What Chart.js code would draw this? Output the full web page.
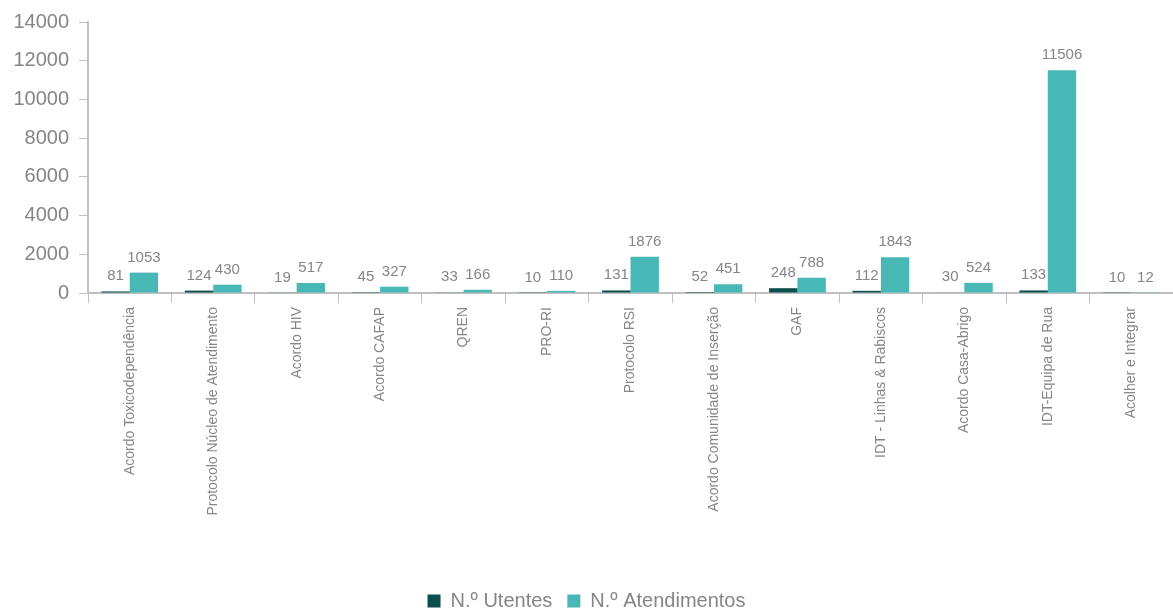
<!DOCTYPE html>
<html>
<head>
<meta charset="utf-8">
<script src="https://cdn.jsdelivr.net/npm/chart.js@4"></script>
<style>
  html, body { margin: 0; padding: 0; background: #fff; }
  #wrap { width: 1173px; height: 609px; }
</style>
</head>
<body>
<div id="wrap"><canvas id="chart"></canvas></div>
<script>
// categories and values
const categories = [
  'Acordo Toxicodependência', 'Protocolo Núcleo de Atendimento', 'Acordo HIV',
  'Acordo CAFAP', 'QREN', 'PRO-RI', 'Protocolo RSI',
  'Acordo Comunidade de Inserção', 'GAF', 'IDT - Linhas & Rabiscos',
  'Acordo Casa-Abrigo', 'IDT-Equipa de Rua', 'Acolher e Integrar'
];
const utentes = [81, 124, 19, 45, 33, 10, 131, 52, 248, 112, 30, 133, 10];
const atendimentos = [1053, 430, 517, 327, 166, 110, 1876, 451, 788, 1843, 524, 11506, 12];
const yTicks = [0, 2000, 4000, 6000, 8000, 10000, 12000, 14000];

const gray = '#858585';
const axisColor = '#c0c0c0';
const font = 'Liberation Sans, Arial, sans-serif';

// value labels above each bar
const valueLabels = {
  id: 'valueLabels',
  afterDatasetsDraw(chart) {
    const ctx = chart.ctx;
    ctx.save();
    ctx.fillStyle = gray;
    ctx.font = '15px ' + font;
    ctx.textAlign = 'center';
    ctx.textBaseline = 'alphabetic';
    chart.data.datasets.forEach((ds, i) => {
      chart.getDatasetMeta(i).data.forEach((bar, j) => {
        ctx.fillText(String(ds.data[j]), bar.x, bar.y - 11);
      });
    });
    ctx.restore();
  }
};

new Chart(document.getElementById('chart'), {
  type: 'bar',
  data: {
    labels: categories,
    datasets: [
      { label: 'N.º Utentes', data: utentes, backgroundColor: '#0b4f4c' },
      { label: 'N.º Atendimentos', data: atendimentos, backgroundColor: '#47b8b6' }
    ]
  },
  options: {
    responsive: true,
    maintainAspectRatio: false,
    animation: false,
    layout: { padding: { top: 12, right: 0, left: 0, bottom: -12 } },
    datasets: { bar: { categoryPercentage: 0.68, barPercentage: 1.0 } },
    plugins: {
      tooltip: { enabled: false },
      legend: {
        position: 'bottom',
        labels: {
          color: gray,
          font: { family: font, size: 20 },
          boxWidth: 13,
          boxHeight: 13,
          padding: 15
        }
      }
    },
    scales: {
      x: {
        offset: true,
        grid: {
          offset: true,
          drawOnChartArea: false,
          drawTicks: true,
          tickLength: 10,
          color: axisColor
        },
        border: { color: axisColor, width: 2 },
        ticks: {
          color: gray,
          font: { family: font, size: 14 },
          minRotation: 90,
          maxRotation: 90,
          autoSkip: false,
          padding: 4
        },
        afterFit(scale) { scale.height = 283; }
      },
      y: {
        min: 0,
        max: 14000,
        afterBuildTicks(scale) { scale.ticks = yTicks.map(v => ({ value: v })); },
        grid: {
          drawOnChartArea: false,
          drawTicks: true,
          tickLength: 9,
          color: axisColor
        },
        border: { color: axisColor, width: 2 },
        ticks: {
          color: gray,
          font: { family: font, size: 20 },
          padding: 10,
          callback: v => String(v)
        },
        afterFit(scale) { scale.width = 88; }
      }
    }
  },
  plugins: [valueLabels]
});
</script>
</body>
</html>
